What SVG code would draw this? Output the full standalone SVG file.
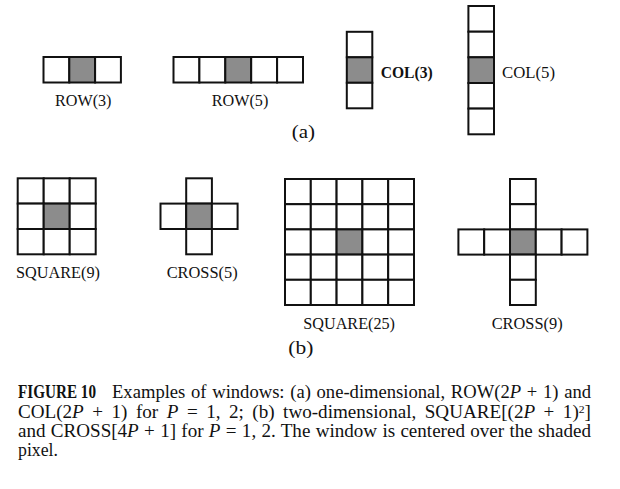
<svg xmlns="http://www.w3.org/2000/svg" width="620" height="489" viewBox="0 0 620 489">
<style>
.c{fill:#fff;stroke:#111;stroke-width:2}
.s{fill:#8c8c8c;stroke:#111;stroke-width:2}
.lbl{font-family:"Liberation Serif","Times New Roman",serif;font-size:16px;fill:#111}
.cap{font-family:"Liberation Serif","Times New Roman",serif;font-size:18px;fill:#111}
.it{font-style:italic}
</style>
<rect width="620" height="489" fill="#fff"/>
<g id="row3">
<rect class="c" x="43.5" y="57" width="25.8" height="25.5"/>
<rect class="s" x="69.3" y="57" width="25.8" height="25.5"/>
<rect class="c" x="95.1" y="57" width="25.8" height="25.5"/>
<text class="lbl" x="55" y="106" textLength="56.5" lengthAdjust="spacingAndGlyphs">ROW(3)</text>
</g>
<g id="row5">
<rect class="c" x="173.5" y="57" width="25.9" height="25.5"/>
<rect class="c" x="199.4" y="57" width="25.9" height="25.5"/>
<rect class="s" x="225.3" y="57" width="25.9" height="25.5"/>
<rect class="c" x="251.2" y="57" width="25.9" height="25.5"/>
<rect class="c" x="277.1" y="57" width="25.9" height="25.5"/>
<text class="lbl" x="211.7" y="106" textLength="56.6" lengthAdjust="spacingAndGlyphs">ROW(5)</text>
</g>
<g id="col3">
<rect class="c" x="346.8" y="31.8" width="25.5" height="25.5"/>
<rect class="s" x="346.8" y="57.3" width="25.5" height="25.5"/>
<rect class="c" x="346.8" y="82.8" width="25.5" height="25.5"/>
<text class="lbl" x="380.7" y="78" font-weight="bold" textLength="52" lengthAdjust="spacingAndGlyphs">COL(3)</text>
</g>
<g id="col5">
<rect class="c" x="468.4" y="6" width="25.6" height="25.7"/>
<rect class="c" x="468.4" y="31.7" width="25.6" height="25.6"/>
<rect class="s" x="468.4" y="57.3" width="25.6" height="25.7"/>
<rect class="c" x="468.4" y="83" width="25.6" height="25.6"/>
<rect class="c" x="468.4" y="108.6" width="25.6" height="25.7"/>
<text class="lbl" x="502" y="78" textLength="53" lengthAdjust="spacingAndGlyphs">COL(5)</text>
</g>
<text id="label-a" class="cap" x="291.7" y="138" textLength="23.3" lengthAdjust="spacingAndGlyphs">(a)</text>
<g id="square9">
<rect class="c" x="17.7" y="178.3" width="26" height="25.3"/>
<rect class="c" x="43.7" y="178.3" width="26" height="25.3"/>
<rect class="c" x="69.7" y="178.3" width="26" height="25.3"/>
<rect class="c" x="17.7" y="203.6" width="26" height="25.4"/>
<rect class="s" x="43.7" y="203.6" width="26" height="25.4"/>
<rect class="c" x="69.7" y="203.6" width="26" height="25.4"/>
<rect class="c" x="17.7" y="229" width="26" height="25.3"/>
<rect class="c" x="43.7" y="229" width="26" height="25.3"/>
<rect class="c" x="69.7" y="229" width="26" height="25.3"/>
<text class="lbl" x="16" y="278" textLength="84" lengthAdjust="spacingAndGlyphs">SQUARE(9)</text>
</g>
<g id="cross5">
<rect class="c" x="186.2" y="178.3" width="25.7" height="25.3"/>
<rect class="c" x="160.5" y="203.6" width="25.7" height="25.4"/>
<rect class="s" x="186.2" y="203.6" width="25.7" height="25.4"/>
<rect class="c" x="211.9" y="203.6" width="25.7" height="25.4"/>
<rect class="c" x="186.2" y="229" width="25.7" height="25.3"/>
<text class="lbl" x="166.7" y="278" textLength="71" lengthAdjust="spacingAndGlyphs">CROSS(5)</text>
</g>
<g id="square25">
<rect class="c" x="285" y="179" width="25.8" height="25.2"/>
<rect class="c" x="310.8" y="179" width="25.8" height="25.2"/>
<rect class="c" x="336.6" y="179" width="25.8" height="25.2"/>
<rect class="c" x="362.4" y="179" width="25.8" height="25.2"/>
<rect class="c" x="388.2" y="179" width="25.8" height="25.2"/>
<rect class="c" x="285" y="204.2" width="25.8" height="25.2"/>
<rect class="c" x="310.8" y="204.2" width="25.8" height="25.2"/>
<rect class="c" x="336.6" y="204.2" width="25.8" height="25.2"/>
<rect class="c" x="362.4" y="204.2" width="25.8" height="25.2"/>
<rect class="c" x="388.2" y="204.2" width="25.8" height="25.2"/>
<rect class="c" x="285" y="229.4" width="25.8" height="25.2"/>
<rect class="c" x="310.8" y="229.4" width="25.8" height="25.2"/>
<rect class="s" x="336.6" y="229.4" width="25.8" height="25.2"/>
<rect class="c" x="362.4" y="229.4" width="25.8" height="25.2"/>
<rect class="c" x="388.2" y="229.4" width="25.8" height="25.2"/>
<rect class="c" x="285" y="254.6" width="25.8" height="25.2"/>
<rect class="c" x="310.8" y="254.6" width="25.8" height="25.2"/>
<rect class="c" x="336.6" y="254.6" width="25.8" height="25.2"/>
<rect class="c" x="362.4" y="254.6" width="25.8" height="25.2"/>
<rect class="c" x="388.2" y="254.6" width="25.8" height="25.2"/>
<rect class="c" x="285" y="279.8" width="25.8" height="25.2"/>
<rect class="c" x="310.8" y="279.8" width="25.8" height="25.2"/>
<rect class="c" x="336.6" y="279.8" width="25.8" height="25.2"/>
<rect class="c" x="362.4" y="279.8" width="25.8" height="25.2"/>
<rect class="c" x="388.2" y="279.8" width="25.8" height="25.2"/>
<text class="lbl" x="303.3" y="329" textLength="91.7" lengthAdjust="spacingAndGlyphs">SQUARE(25)</text>
</g>
<g id="cross9">
<rect class="c" x="510" y="179" width="25.8" height="25.2"/>
<rect class="c" x="510" y="204.2" width="25.8" height="25.2"/>
<rect class="c" x="458.4" y="229.4" width="25.8" height="25.2"/>
<rect class="c" x="484.2" y="229.4" width="25.8" height="25.2"/>
<rect class="s" x="510" y="229.4" width="25.8" height="25.2"/>
<rect class="c" x="535.8" y="229.4" width="25.8" height="25.2"/>
<rect class="c" x="561.6" y="229.4" width="25.8" height="25.2"/>
<rect class="c" x="510" y="254.6" width="25.8" height="25.2"/>
<rect class="c" x="510" y="279.8" width="25.8" height="25.2"/>
<text class="lbl" x="491.7" y="329" textLength="71" lengthAdjust="spacingAndGlyphs">CROSS(9)</text>
</g>
<text id="label-b" class="cap" x="288.3" y="354" textLength="25" lengthAdjust="spacingAndGlyphs">(b)</text>
<g id="caption">
<text class="cap" x="18" y="398" font-weight="bold" font-size="16.5" textLength="78" lengthAdjust="spacingAndGlyphs">FIGURE 10</text>
<text class="cap" x="112" y="398" word-spacing="1" textLength="479" lengthAdjust="spacingAndGlyphs">Examples of windows: (a) one-dimensional, ROW(2<tspan class="it">P</tspan> + 1) and</text>
<text class="cap" x="18" y="418" word-spacing="3.5" textLength="573" lengthAdjust="spacingAndGlyphs">COL(2<tspan class="it">P</tspan> + 1) for <tspan class="it">P</tspan> = 1, 2; (b) two-dimensional, SQUARE[(2<tspan class="it">P</tspan> + 1)<tspan font-size="11" dy="-5">2</tspan><tspan dy="5">]</tspan></text>
<text class="cap" x="18" y="437" word-spacing="0.5" textLength="573" lengthAdjust="spacingAndGlyphs">and CROSS[4<tspan class="it">P</tspan> + 1] for <tspan class="it">P</tspan> = 1, 2. The window is centered over the shaded</text>
<text class="cap" x="18" y="456" textLength="40" lengthAdjust="spacingAndGlyphs">pixel.</text>
</g>
</svg>
